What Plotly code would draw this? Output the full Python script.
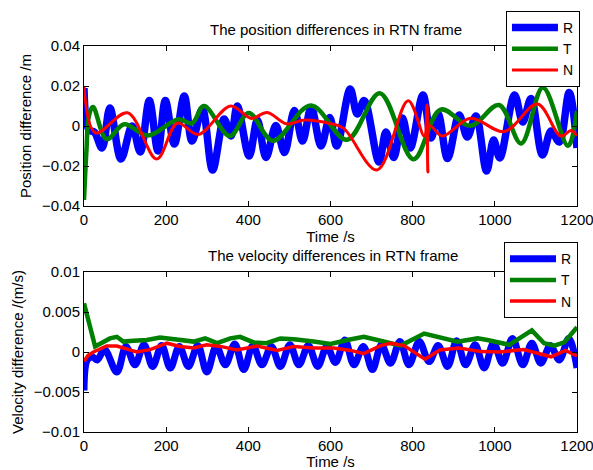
import plotly.graph_objects as go

# ---- position differences in RTN frame (m), read at turning points ----
t_pos_r = [0, 12, 25, 44, 63, 90, 117, 137, 159, 180, 198, 220, 244, 263, 288, 313, 341, 358,
           373, 402, 422, 443, 467, 488, 512, 532, 553, 577, 598, 615, 648, 665, 682, 718, 735,
           754, 775, 794, 825, 845, 862, 885, 913, 933, 954, 980, 997, 1012, 1048, 1068, 1088,
           1116, 1137, 1157, 1181, 1200]
pos_r = [0.019, -0.002, -0.003, -0.011, 0.009, -0.0165, 0.0, -0.013, 0.0127, -0.0125, 0.0127,
         -0.009, 0.015, -0.0075, 0.0085, -0.022, 0.0035, -0.005, 0.010, -0.015, 0.003, -0.0158,
         0.0002, -0.0133, 0.0077, -0.0075, 0.0093, -0.010, 0.0043, -0.010, 0.0185, 0.006, 0.0127,
         -0.018, -0.003, -0.0158, 0.004, -0.011, 0.0155, -0.006, 0.006, -0.0163, 0.0055, -0.0055,
         0.005, -0.0225, -0.007, -0.016, 0.0155, 0.002, 0.0138, -0.0145, -0.0025, -0.008, 0.0168,
         -0.011]

t_pos_t = [0, 6, 12, 22, 55, 98, 155, 230, 263, 292, 355, 401, 460, 552, 640, 720, 802, 868,
           941, 1010, 1064, 1117, 1178, 1200]
pos_t = [-0.037, -0.012, 0.005, 0.0095, -0.0066, 0.0009, -0.0048, 0.0034, 0.0013, 0.010, -0.005,
         0.0065, -0.0074, 0.0103, -0.0069, 0.0164, -0.0166, 0.0082, 0.0001, 0.0105, -0.0087,
         0.0193, -0.0099, 0.0076]

t_pos_n = [0, 28, 106, 177, 227, 278, 357, 407, 446, 493, 537, 600, 632, 713, 789, 828, 835,
           837, 842, 872, 941, 1023, 1104, 1160, 1186, 1200]
pos_n = [0.020, -0.0034, 0.0066, -0.0165, 0.0014, -0.0042, 0.010, 0.0038, 0.0068, 0.0011, 0.003,
         0.0012, -0.0012, -0.022, 0.0126, -0.005, 0.0105, -0.023, 0.0, -0.005, 0.0039, -0.0028,
         0.011, -0.005, -0.0023, -0.005]

# ---- velocity differences in RTN frame (m/s) ----
t_vel_r = [0, 8, 20, 32, 50, 80, 102, 124, 146, 167, 189, 210, 232, 254, 277, 299, 322, 344,
           367, 389, 411, 433, 456, 478, 501, 523, 546, 569, 591, 612, 635, 657, 680, 702, 724,
           746, 769, 791, 816, 840, 862, 885, 907, 929, 952, 974, 997, 1019, 1043, 1068, 1090,
           1112, 1135, 1157, 1180, 1200]
vel_r = [-0.0048, -0.001, -0.0006, -0.001, 0.0003, -0.0025, 0.0007, -0.0016, 0.0009, -0.0018,
         0.0008, -0.002, 0.0007, -0.0018, 0.0008, -0.0025, 0.0007, -0.0016, 0.001, -0.0022,
         0.0008, -0.0016, 0.0007, -0.0018, 0.0009, -0.0016, 0.0008, -0.0018, 0.0007, -0.0013,
         0.0015, -0.0016, 0.0007, -0.0022, 0.0009, -0.0014, 0.0013, -0.0016, 0.0013, -0.0012,
         0.0008, -0.0018, 0.0014, -0.0016, 0.0009, -0.002, 0.0011, -0.0014, 0.0017, -0.0016,
         0.0011, -0.0014, 0.0008, -0.001, 0.0017, -0.002]

t_vel_t = [0, 27, 45, 63, 80, 96, 120, 153, 185, 234, 267, 295, 324, 356, 380, 413, 444, 478,
           511, 559, 600, 641, 681, 714, 771, 828, 868, 909, 958, 982, 1035, 1090, 1120, 1145,
           1169, 1200]
vel_t = [0.0061, 0.0007, 0.0012, 0.0017, 0.0019, 0.0013, 0.0014, 0.0015, 0.0018, 0.0015, 0.0013,
         0.0017, 0.0011, 0.0017, 0.0019, 0.0012, 0.0011, 0.0017, 0.0016, 0.0013, 0.001, 0.0015,
         0.0019, 0.0015, 0.0008, 0.0023, 0.0018, 0.0013, 0.0017, 0.0015, 0.0009, 0.0027, 0.0011,
         0.0008, 0.0012, 0.0031]

t_vel_n = [0, 10, 23, 55, 80, 128, 161, 202, 234, 267, 299, 332, 372, 421, 470, 511, 559, 608,
           649, 681, 722, 746, 779, 830, 866, 913, 966, 1010, 1070, 1137, 1172, 1200]
vel_n = [-0.0012, -0.0004, 0.0, 0.00075, 0.00075, 0.0, 0.0003, 0.0011, 0.0007, 0.0005, 0.0009,
         0.0007, 0.00025, 0.00075, 0.0002, 0.0007, 0.0005, 0.0005, 0.0002, -0.0002, 0.0008,
         0.0011, 0.0008, -0.0009, 0.00025, 0.0005, 0.00005, 0.0, 0.0003, -0.0006, 0.0002, -0.0005]

x_ticks = [0, 200, 400, 600, 800, 1000, 1200]
pos_ticks = [0.04, 0.02, 0, -0.02, -0.04]
pos_labels = ['0.04', '0.02', '0', '\u22120.02', '\u22120.04']
vel_ticks = [0.01, 0.005, 0, -0.005, -0.01]
vel_labels = ['0.01', '0.005', '0', '\u22120.005', '\u22120.01']

BLUE = 'rgb(0,0,255)'
GREEN = 'rgb(0,128,0)'
RED = 'rgb(255,0,0)'
FONT = 'Liberation Sans'
TXT = dict(family=FONT, size=15, color='black')
LEG = dict(family=FONT, size=14, color='black')

fig = go.Figure()

# top panel
fig.add_trace(go.Scatter(x=t_pos_r, y=pos_r, name='R', mode='lines',
                         line=dict(color=BLUE, width=7.5, shape='spline', smoothing=1),
                         xaxis='x', yaxis='y', legend='legend'))
fig.add_trace(go.Scatter(x=t_pos_t, y=pos_t, name='T', mode='lines',
                         line=dict(color=GREEN, width=4.5, shape='spline', smoothing=1),
                         xaxis='x', yaxis='y', legend='legend'))
fig.add_trace(go.Scatter(x=t_pos_n, y=pos_n, name='N', mode='lines',
                         line=dict(color=RED, width=3, shape='spline', smoothing=1),
                         xaxis='x', yaxis='y', legend='legend'))

# bottom panel
fig.add_trace(go.Scatter(x=t_vel_r, y=vel_r, name='R', mode='lines',
                         line=dict(color=BLUE, width=7, shape='spline', smoothing=1),
                         xaxis='x2', yaxis='y2', legend='legend2'))
fig.add_trace(go.Scatter(x=t_vel_t, y=vel_t, name='T', mode='lines',
                         line=dict(color=GREEN, width=4.5),
                         xaxis='x2', yaxis='y2', legend='legend2'))
fig.add_trace(go.Scatter(x=t_vel_n, y=vel_n, name='N', mode='lines',
                         line=dict(color=RED, width=3.5),
                         xaxis='x2', yaxis='y2', legend='legend2'))

axis_style = dict(showline=True, linecolor='black', linewidth=1, mirror='ticks',
                  ticks='inside', ticklen=5, tickcolor='black', showgrid=False,
                  zeroline=False, automargin=False, tickfont=TXT, ticklabeloverflow='allow')

fig.update_layout(
    width=593, height=470,
    margin=dict(l=84, r=16, t=46, b=38, autoexpand=False),
    paper_bgcolor='white', plot_bgcolor='white',
    font=TXT,
    xaxis=dict(domain=[0, 1], anchor='y', range=[0, 1200], tickvals=x_ticks,
               title=dict(text='Time /s', standoff=0, font=TXT), **axis_style),
    yaxis=dict(domain=[0.5855, 1], anchor='x', range=[-0.04, 0.04], tickvals=pos_ticks,
               ticktext=pos_labels,
               title=dict(text='Position difference /m', standoff=6, font=TXT),
               **axis_style),
    xaxis2=dict(domain=[0, 1], anchor='y2', range=[0, 1200], tickvals=x_ticks,
                title=dict(text='Time /s', standoff=0, font=TXT), **axis_style),
    yaxis2=dict(domain=[0, 0.4145], anchor='x2', range=[-0.01, 0.01], tickvals=vel_ticks,
                ticktext=vel_labels,
                title=dict(text='Velocity difference /(m/s)', standoff=6, font=TXT),
                **axis_style),
    legend=dict(x=1.006, y=1.0907, xanchor='right', yanchor='top', bgcolor='white',
                bordercolor='black', borderwidth=1, font=LEG, tracegroupgap=0,
                itemwidth=46),
    legend2=dict(x=1.002, y=0.492, xanchor='right', yanchor='top', bgcolor='white',
                 bordercolor='black', borderwidth=1, font=LEG, tracegroupgap=0,
                 itemwidth=46),
    annotations=[
        dict(text='The position differences in RTN frame', x=0.512, y=1.0415, xref='paper',
             yref='paper', showarrow=False, xanchor='center', yanchor='middle', font=TXT),
        dict(text='The velocity differences in RTN frame', x=0.506, y=0.456, xref='paper',
             yref='paper', showarrow=False, xanchor='center', yanchor='middle', font=TXT),
    ],
)

# drop the page's default body margin so the figure fills the window exactly
fig.write_html("out.html", config={'displayModeBar': False},
               post_script="document.body.style.margin='0';"
                           "document.body.style.overflow='hidden';")
